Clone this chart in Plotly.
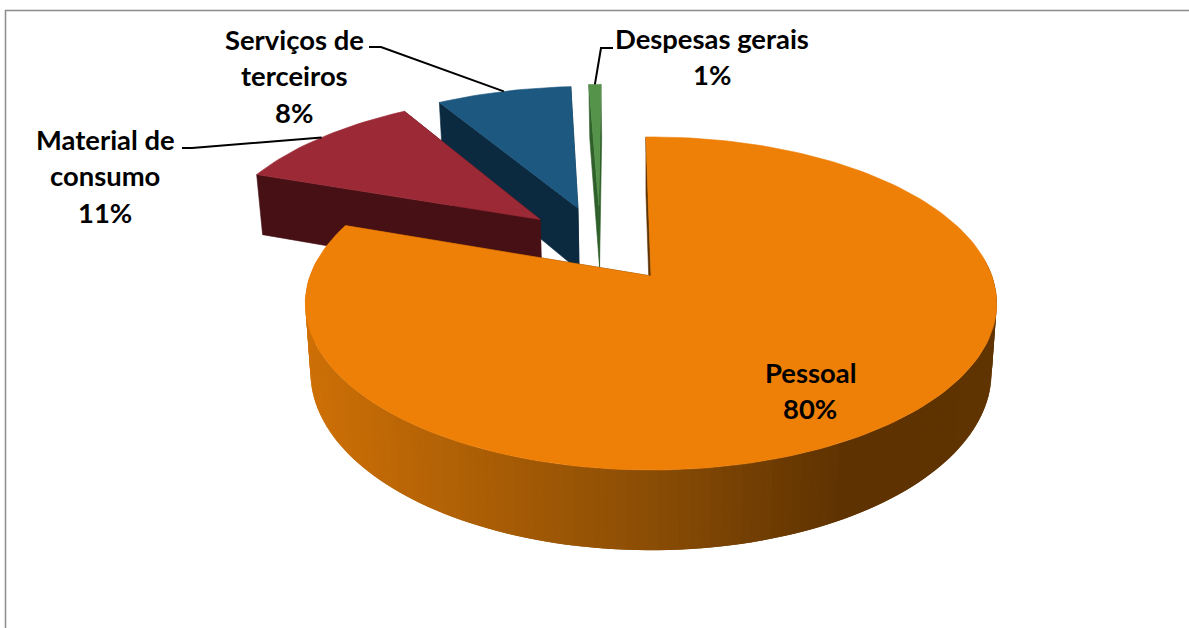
import numpy as np
import plotly.graph_objects as go

# chart data
categories = ["Pessoal", "Material de consumo", "Serviços de terceiros", "Despesas gerais"]
shares = [80.6, 10.9, 7.8, 0.7]
percent_labels = ["80%", "11%", "8%", "1%"]
label_lines = [["Pessoal"], ["Material de", "consumo"], ["Serviços de", "terceiros"], ["Despesas gerais"]]

top_colors = ["#EE7F07", "#9C2A36", "#1C5880", "#55934A"]
cut_colors = ["#5E3300", "#471015", "#0B2A40", "#2F5F2A"]
# how far each slice is pulled out of the pie (unit circle, right / back)
pulls = [(0, 0), (-0.345, 0.37), (-0.23, 0.45), (-0.165, 0.47)]
start_angle = -1.0

# label placement in pixels: centre x, first line y
label_pos = [(810, 372), (105, 139), (294, 39), (712, 38)]
line_step = 36.5
# leader line starts (text end, elbow); Pessoal has none
leaders = [None, [(182, 148), (192, 148)], [(369, 47), (381, 47)], [(613, 48), (601, 48)]]

# perspective of the 3D pie
X0, Y0 = 651, 276
A, B, K = 162, 341, 0.165
H, C = 67, 0.015


def project(X, Y, z=0.0):
    w = 1 + K * Y
    return X0 + B * X / w * (1 - C * z), Y0 - A * Y / w + H * z / w


def rim_point(deg, pull, z=0.0):
    t = np.radians(deg)
    return project(np.sin(t) + pull[0], np.cos(t) + pull[1], z)


def rim_color(x):
    stops_x = [306, 648, 850, 997]
    r = np.interp(x, stops_x, [206, 140, 94, 96])
    g = np.interp(x, stops_x, [112, 78, 50, 52])
    b = np.interp(x, stops_x, [6, 5, 1, 0])
    return f"rgb({r:.0f},{g:.0f},{b:.0f})"


fig = go.Figure()


def add_poly(points, color, edge=0.6):
    xs = [p[0] for p in points]
    ys = [p[1] for p in points]
    fig.add_trace(go.Scatter(x=xs + xs[:1], y=ys + ys[:1], mode="lines", fill="toself",
                             fillcolor=color, line=dict(color=color, width=edge),
                             hoverinfo="skip", showlegend=False))


# slice angles, clockwise from the top
ends = start_angle + np.cumsum(shares) / sum(shares) * 360
starts = np.concatenate([[start_angle], ends[:-1]])

# back slices first, Pessoal last
for i in [3, 2, 1, 0]:
    a0, a1 = starts[i], ends[i]
    pull = pulls[i]
    arc = np.arange(a0, a1, 1.5).tolist() + [a1]

    # the two cut faces
    for a in [a1, a0]:
        add_poly([project(pull[0], pull[1]), rim_point(a, pull),
                  rim_point(a, pull, 1), project(pull[0], pull[1], 1)], cut_colors[i])

    # outer wall, only the part that faces the viewer; each strip overlaps the next so no seams show
    for b0, b1 in zip(arc[:-1], arc[1:]):
        if np.cos(np.radians((b0 + b1) / 2)) < 0.1:
            fine = np.linspace(b0, b1 + 1.5, 4)
            quad = [rim_point(b, pull) for b in fine] + [rim_point(b, pull, 1) for b in fine[::-1]]
            add_poly(quad, rim_color(quad[0][0]), edge=0)

    # top face
    add_poly([project(pull[0], pull[1])] + [rim_point(a, pull) for a in arc], top_colors[i])

# leader lines run to the middle of the slice's outer edge
for i, leader in enumerate(leaders):
    if leader is None:
        continue
    end = rim_point((starts[i] + ends[i]) / 2, pulls[i])
    pts = leader + [end]
    fig.add_trace(go.Scatter(x=[p[0] for p in pts], y=[p[1] for p in pts], mode="lines",
                             line=dict(color="black", width=2), hoverinfo="skip", showlegend=False))

# data labels, one annotation per text line
for i, lines in enumerate(label_lines):
    cx, cy = label_pos[i]
    for n, text in enumerate(lines + [percent_labels[i]]):
        fig.add_annotation(x=cx, y=cy + n * line_step, text=text, showarrow=False,
                           font=dict(family="Lato", size=27.4, color="black", weight="bold"))

# chart frame, only top and left sides fall inside the picture
fig.add_shape(type="rect", x0=5.5, y0=10.5, x1=1300, y1=800, line=dict(color="#8C8C8C", width=1.5), layer="below")

fig.update_xaxes(range=[0, 1189], visible=False, fixedrange=True)
fig.update_yaxes(range=[628, 0], visible=False, fixedrange=True)
fig.update_layout(width=1189, height=628, margin=dict(l=0, r=0, t=0, b=0),
                  paper_bgcolor="white", plot_bgcolor="white")

fig.write_html("out.html", config=dict(displayModeBar=False),
               post_script="document.body.style.margin='0';document.body.style.overflow='hidden';")
